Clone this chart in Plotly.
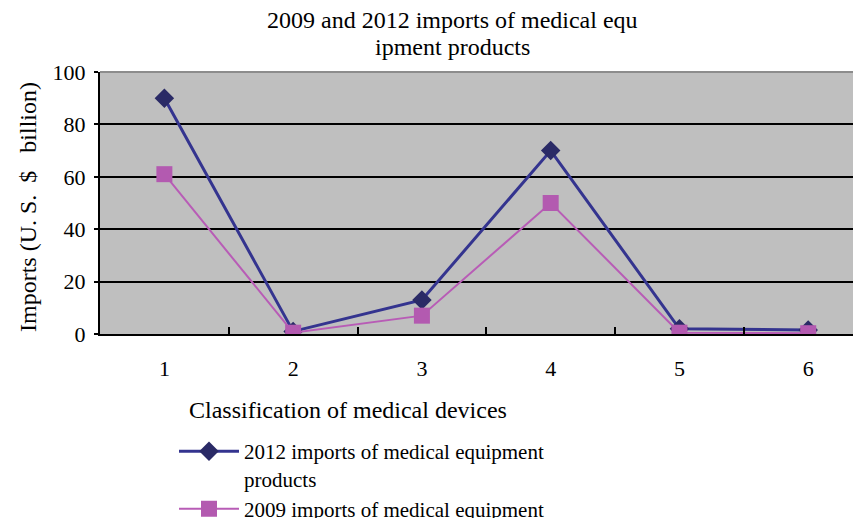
import plotly.graph_objects as go

categories = [1, 2, 3, 4, 5, 6]
imports_2012 = [90, 1, 13, 70, 2, 1.5]
imports_2009 = [61, 0.5, 7, 50, 0.5, 0.3]
y_ticks = [0, 20, 40, 60, 80, 100]
title_lines = ["2009 and 2012 imports of medical equ", "ipment products"]

# page has an 8px body margin, so the figure is drawn 8px smaller / shifted
W, H = 853, 510
L, T, B = 92, 64, 184
FONT = "Liberation Serif"
PH = H - T - B
PW = W - L


def px(x):
    return (x - L) / PW


def py(y):
    return 1 - (y - T) / PH


fig = go.Figure()
fig.add_trace(go.Scatter(
    x=categories, y=imports_2012, mode="lines+markers",
    name="2012 imports of medical equipment<br>products",
    line=dict(color="#34348f", width=3),
    marker=dict(symbol="diamond", size=15, color="#2a2a66"),
))
fig.add_trace(go.Scatter(
    x=categories, y=imports_2009, mode="lines+markers",
    name="2009 imports of medical equipment<br>products",
    line=dict(color="#b85cb6", width=2),
    marker=dict(symbol="square", size=16, color="#b35ab0"),
))

fig.update_layout(
    width=W, height=H,
    margin=dict(l=L, r=0, t=T, b=B, autoexpand=False),
    paper_bgcolor="white",
    plot_bgcolor="#bfbfbf",
    font=dict(family=FONT, size=22, color="black"),
    xaxis=dict(range=[0.5, 6.41], tickvals=categories, ticks="",
               ticklabelstandoff=14,
               showgrid=False, showline=True, linecolor="black", linewidth=2,
               minor=dict(tickvals=[1.5, 2.5, 3.5, 4.5, 5.5], ticks="inside",
                          ticklen=7, tickcolor="black", tickwidth=2),
               zeroline=False, fixedrange=True),
    yaxis=dict(range=[0, 100], tickvals=y_ticks, ticks="outside", ticklen=4,
               tickcolor="black", tickwidth=2, ticklabelstandoff=4,
               showgrid=True, gridcolor="black", gridwidth=2,
               showline=True, linecolor="black", linewidth=2,
               zeroline=False),
    legend=dict(xref="container", yref="container", x=166 / W, y=1 - 423 / H,
                xanchor="left", yanchor="top", bgcolor="rgba(0,0,0,0)",
                font=dict(size=21, family=FONT), tracegroupgap=0,
                itemwidth=60, valign="top"),
    showlegend=True,
)

# title (two lines placed separately for tight line spacing)
for i, line in enumerate(title_lines):
    fig.add_annotation(text=line, xref="paper", yref="paper",
                       x=px(444), y=py(12 + 27 * i),
                       xanchor="center", yanchor="middle", showarrow=False,
                       font=dict(size=24, family=FONT))
# y-axis title
fig.add_annotation(text="Imports (U. S.\u00a0\u00a0$\u00a0\u00a0\u00a0billion)",
                   xref="paper", yref="paper", x=px(20), y=py(199),
                   xanchor="center", yanchor="middle", textangle=-90, showarrow=False,
                   font=dict(size=24, family=FONT))
# x-axis title
fig.add_annotation(text="Classification of medical devices", xref="paper", yref="paper",
                   x=px(179), y=py(402),
                   xanchor="left", yanchor="middle", showarrow=False,
                   font=dict(size=24, family=FONT))
# top border of plot area
fig.add_shape(type="line", xref="paper", yref="paper", x0=0, x1=1, y0=1, y1=1,
              line=dict(color="#8c8c8c", width=2))

fig.write_html("out.html")
